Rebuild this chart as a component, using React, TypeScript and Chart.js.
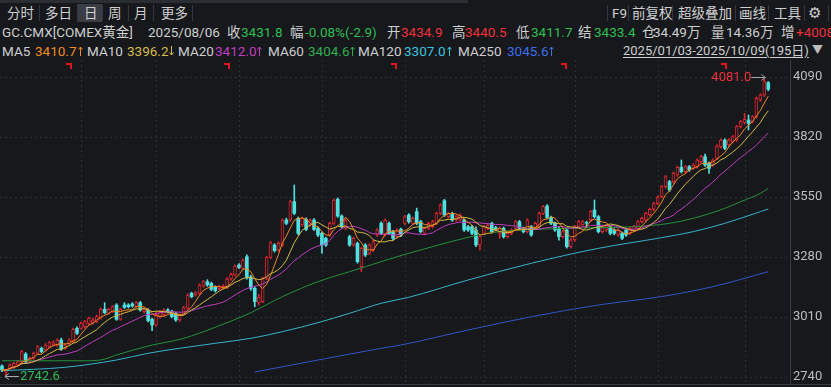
import React, { useEffect, useRef } from "react";
import { Chart, registerables } from "chart.js";

Chart.register(...registerables);

// ---- data ----
const SLOTS = 200; // 195 trading days + empty slots on the right

const OPEN = [
  2789.5, 2762, 2779, 2783.5, 2794, 2809, 2843.5, 2813.5, 2824, 2846.5,
  2869, 2861.5, 2876.5, 2884, 2884, 2906.5, 2869, 2891.5, 2899, 2959,
  2959, 2966.5, 2981.5, 2984.5, 2989, 3004, 3044.5, 3026.5, 3034, 3064,
  2999.5, 3064, 3064, 3068.5, 3056.5, 3074.5, 3034, 3041.5, 2999.5, 2974,
  3011.5, 3019, 3041.5, 3034, 3026.5, 2996.5, 3026.5, 3049, 3116.5, 3109,
  3116.5, 3149.5, 3169, 3161.5, 3143.5, 3138, 3140, 3143.5, 3181, 3199,
  3244, 3229, 3281.5, 3190, 3139, 3075, 3079, 3184, 3278.5, 3334,
  3311.5, 3334, 3446.5, 3446.5, 3529, 3454, 3424, 3449.5, 3424, 3446.5,
  3409, 3386.5, 3364, 3379, 3431.5, 3539.5, 3464.5, 3409, 3371.5, 3334,
  3341.5, 3236.5, 3334, 3296.5, 3311.5, 3379, 3431.5, 3379, 3431.5, 3394,
  3371.5, 3404.5, 3431.5, 3469, 3431.5, 3484, 3439, 3386.5, 3409, 3416.5,
  3431.5, 3476.5, 3533.5, 3461.5, 3476.5, 3446.5, 3449.5, 3446.5, 3416.5, 3416.5,
  3401.5, 3334, 3386.5, 3409, 3431.5, 3412, 3386.5, 3409, 3371.5, 3386.5,
  3409, 3439, 3409, 3394, 3416.5, 3409, 3416.5, 3476.5, 3509.5, 3458.5,
  3431.5, 3409, 3371.5, 3401.5, 3326.5, 3356.5, 3416.5, 3424, 3434.9, 3446.5,
  3491.5, 3461.5, 3394, 3401.5, 3416.5, 3401.5, 3379, 3386.5, 3401.5, 3386.5,
  3401.5, 3409, 3439, 3446.5, 3470, 3495, 3520, 3551.5, 3596.5, 3619,
  3619, 3649, 3683.5, 3664, 3686.5, 3679, 3686.5, 3709, 3731.5, 3701.5,
  3694, 3724, 3776.5, 3806.5, 3784, 3799, 3806.5, 3866.5, 3884.5, 3896.5,
  3889, 3911.5, 3986.5, 4009, 4064.5,
];

const HIGH = [
  2795, 2776, 2800, 2806, 2815, 2860, 2850, 2830, 2852, 2882,
  2875, 2890, 2900, 2903, 2912, 2915, 2890, 2912, 2960, 2966,
  2987, 2995, 3010, 3005, 3018, 3050, 3074.5, 3050, 3062, 3070,
  3050, 3074.5, 3070, 3075, 3080, 3080, 3050, 3048, 3005, 3032,
  3040, 3048, 3048, 3040, 3032, 3025, 3058, 3115, 3122, 3125,
  3160, 3175, 3178, 3167, 3150, 3152, 3155, 3187, 3208, 3245,
  3250, 3272, 3290, 3198, 3146, 3112, 3190, 3284, 3350, 3340,
  3348, 3452, 3455, 3535, 3604, 3460, 3460, 3456, 3452, 3453,
  3415, 3392, 3370, 3437, 3542, 3546, 3470, 3452, 3378, 3370,
  3348, 3325, 3340, 3340, 3355, 3408, 3438, 3452, 3438, 3400,
  3408, 3410, 3468, 3475, 3460, 3500, 3445, 3415, 3437, 3445,
  3482, 3520, 3540, 3482, 3482, 3467, 3475, 3452, 3422, 3422,
  3416, 3377, 3422, 3430, 3437, 3418, 3415, 3415, 3392, 3407,
  3445, 3445, 3415, 3452, 3422, 3437, 3482, 3512, 3516, 3464,
  3437, 3415, 3400, 3407, 3362, 3422, 3445, 3445, 3440.5, 3490,
  3536.5, 3467, 3422, 3422, 3422, 3407, 3407, 3392, 3407, 3415,
  3422, 3445, 3460, 3482, 3500, 3526, 3555, 3602, 3647, 3625,
  3662, 3689, 3716.5, 3692, 3692, 3700, 3722, 3737, 3743.5, 3707,
  3722, 3785, 3812, 3812, 3812, 3827, 3872, 3895, 3926.5, 3919,
  3917, 4000, 4015, 4081, 4070,
];

const LOW = [
  2764, 2742.6, 2775, 2778, 2790, 2805, 2803, 2808, 2820, 2842,
  2848, 2856, 2872, 2880, 2878, 2860, 2864, 2886, 2895, 2930,
  2955, 2960, 2976, 2978, 2985, 3000, 3024, 3022, 3030, 2995,
  2995, 3048, 3050, 3054, 3052, 3036, 3028, 2988, 2948.5, 2968,
  3005, 3014, 3028, 3006, 2990, 2990, 3020, 3044, 3096, 3104,
  3110, 3144, 3148, 3128, 3122, 3132, 3135, 3138, 3176, 3194,
  3228, 3224, 3180, 3130, 3056, 3064, 3074, 3178, 3272, 3302,
  3305, 3328, 3425, 3440, 3470, 3380, 3418, 3398, 3418, 3400,
  3372, 3296.5, 3328, 3372, 3426, 3458, 3410, 3403, 3328, 3328,
  3252, 3214, 3282, 3290, 3305, 3372, 3380, 3373, 3380, 3358,
  3365, 3372, 3425, 3432, 3425, 3425, 3388, 3380, 3403, 3410,
  3425, 3470, 3462, 3455, 3440, 3440, 3443, 3395, 3395, 3380,
  3326.5, 3311.5, 3380, 3403, 3388, 3398, 3364, 3365, 3365, 3380,
  3403, 3403, 3388, 3388, 3373, 3403, 3410, 3470, 3452, 3425,
  3395, 3356, 3365, 3320, 3320, 3350, 3410, 3418, 3411.7, 3440,
  3455, 3388, 3388, 3395, 3380, 3380, 3373, 3358, 3373, 3380,
  3395, 3403, 3433, 3440, 3465, 3488, 3515, 3546, 3590, 3575,
  3612, 3643, 3658, 3658, 3665, 3673, 3680, 3703, 3688, 3656.5,
  3688, 3718, 3770, 3763, 3778, 3793, 3800, 3860, 3878, 3851.5,
  3883, 3905, 3980, 4003, 4028,
];

const CLOSE = [
  2771.5, 2770, 2794, 2801.5, 2809, 2854, 2809, 2824, 2846.5, 2876.5,
  2854, 2884, 2894.5, 2894.5, 2906.5, 2864.5, 2884, 2906.5, 2954.5, 2936.5,
  2981.5, 2989, 3004, 2996.5, 3011.5, 3044.5, 3029.5, 3044.5, 3056.5, 2999.5,
  3044.5, 3053.5, 3056.5, 3059.5, 3074.5, 3041.5, 3044.5, 2993.5, 2974, 3022,
  3034, 3041.5, 3034, 3011.5, 2996.5, 3019, 3052, 3109, 3101.5, 3119.5,
  3154, 3169, 3154, 3134.5, 3128.5, 3146.5, 3148, 3181, 3202, 3239.5,
  3233.5, 3266.5, 3190, 3139, 3079, 3100, 3184, 3278.5, 3344.5, 3308.5,
  3341.5, 3446.5, 3431.5, 3529, 3476.5, 3386.5, 3454, 3404.5, 3446.5, 3404,
  3379, 3334, 3334, 3431.5, 3536.5, 3464.5, 3416.5, 3446.5, 3334, 3364,
  3259, 3319, 3289, 3334, 3349, 3401.5, 3386.5, 3446.5, 3386.5, 3364,
  3401.5, 3379, 3461.5, 3439, 3454, 3431.5, 3394, 3409, 3431.5, 3439,
  3476.5, 3514, 3469, 3476.5, 3446.5, 3461.5, 3469, 3401.5, 3401.5, 3386.5,
  3334, 3371.5, 3416.5, 3424, 3394, 3404.5, 3409, 3371.5, 3386.5, 3401.5,
  3439, 3409, 3394, 3446.5, 3379, 3431.5, 3476.5, 3506.5, 3458.5, 3431.5,
  3401.5, 3371.5, 3394, 3326.5, 3356.5, 3416.5, 3439, 3439, 3431.8, 3484,
  3461.5, 3394, 3416.5, 3416.5, 3386.5, 3386.5, 3401.5, 3364, 3379, 3409,
  3416.5, 3439, 3454, 3476.5, 3495, 3520, 3548, 3596.5, 3641.5, 3581.5,
  3656.5, 3683.5, 3664, 3686.5, 3671.5, 3694, 3716.5, 3731.5, 3694, 3679,
  3716.5, 3779.5, 3806.5, 3769, 3806.5, 3821.5, 3866.5, 3889, 3899.5, 3881.5,
  3911.5, 3994, 4009, 4069, 4034.5,
];

// long moving averages: [day index, value]
const MA60_POINTS: [number, number][] = [
  [0, 2813], [8, 2813], [21, 2813], [25, 2816.5], [29, 2839], [37, 2879.5],
  [46, 2914], [54, 2964], [63, 3029.5], [71, 3101.5], [80, 3169], [88, 3214],
  [96, 3259], [103, 3297], [109, 3326.5], [118, 3368.5], [126, 3394], [143, 3409],
  [160, 3416.5], [169, 3431.5], [175, 3454], [183, 3499], [187, 3529], [192, 3566.5], [194, 3589],
];
const MA120_POINTS: [number, number][] = [
  [0, 2768.4], [16, 2783.7], [29, 2816.5], [37, 2846.7], [54, 2891.7], [63, 2914],
  [71, 2944], [80, 2984.5], [88, 3026.7], [96, 3071.7], [103, 3098.7], [118, 3176.5],
  [134, 3251.7], [151, 3319], [167, 3367], [175, 3394], [183, 3431.5], [192, 3484], [194, 3496],
];
const MA250_POINTS: [number, number][] = [
  [64, 2762.5], [80, 2816.5], [96, 2869], [101, 2884], [118, 2951.5], [134, 3011],
  [151, 3064], [167, 3102], [180, 3146.5], [194, 3214],
];

const Y_TICKS = [2740, 3010, 3280, 3550, 3820, 4090];
const MONTH_START = [20, 39, 60, 81, 102, 122, 145, 166, 188];
const Y_MIN = 2704;
const Y_MAX = 4166.5;

// ---- styles ----
const BG = "#16181c";
const UP = "#d9252d";
const DOWN = "#4fe0e0";
const GRID = "#2c2f35";
const AXIS = "#383b41";
const TXT = "#cfcfcf";
const RED_T = "#f0313b";
const GRN_T = "#2fbd52";
const C_MA5 = "#ef8a1e";
const C_MA10 = "#d6bd45";
const C_MA20 = "#c03ec0";
const C_MA60 = "#26913e";
const C_MA120 = "#38b3c6";
const C_MA250 = "#3355c4";
const T_MA60 = "#2fae4f";
const T_MA120 = "#3cc3dc";
const T_MA250 = "#3f6fe8";
const FONT = 'Roboto, "Noto Sans CJK SC", sans-serif';

function movingAverage(values: number[], n: number): number[] {
  return values.map((_, i) => {
    const s = Math.max(0, i - n + 1);
    let sum = 0;
    for (let k = s; k <= i; k++) sum += values[k];
    return sum / (i - s + 1);
  });
}

function sparseSeries(points: [number, number][]): (number | null)[] {
  const a: (number | null)[] = new Array(SLOTS).fill(null);
  points.forEach(([i, v]) => (a[i] = v));
  return a;
}

function pad<T>(arr: T[]): (T | null)[] {
  return [...arr, ...new Array(SLOTS - arr.length).fill(null)];
}

const decorPlugin = {
  id: "decor",
  beforeDatasetsDraw(chart: any) {
    const { ctx, chartArea: ca, scales } = chart;
    const x = scales.x;
    const y = scales.y;
    ctx.save();
    ctx.strokeStyle = GRID;
    ctx.lineWidth = 1;
    ctx.setLineDash([2, 3]);
    Y_TICKS.forEach((v) => {
      const py = Math.round(y.getPixelForValue(v)) + 0.5;
      ctx.beginPath();
      ctx.moveTo(ca.left, py);
      ctx.lineTo(ca.right, py);
      ctx.stroke();
    });
    MONTH_START.forEach((i) => {
      const px = Math.round(x.getPixelForValue(i)) + 0.5;
      ctx.beginPath();
      ctx.moveTo(px, ca.top);
      ctx.lineTo(px, ca.bottom);
      ctx.stroke();
    });
    ctx.setLineDash([]);
    ctx.strokeStyle = AXIS;
    ctx.beginPath();
    ctx.moveTo(Math.round(ca.right) + 0.5, ca.top);
    ctx.lineTo(Math.round(ca.right) + 0.5, ca.bottom);
    ctx.stroke();
    ctx.beginPath();
    ctx.moveTo(ca.left, ca.bottom - 0.5);
    ctx.lineTo(chart.width, ca.bottom - 0.5);
    ctx.stroke();
    ctx.restore();
  },
  afterDatasetsDraw(chart: any) {
    const { ctx, scales } = chart;
    const x = scales.x;
    const y = scales.y;
    let hi = 0;
    let lo = 0;
    HIGH.forEach((v, i) => { if (v > HIGH[hi]) hi = i; });
    LOW.forEach((v, i) => { if (v < LOW[lo]) lo = i; });
    ctx.save();
    ctx.font = `13px ${FONT}`;
    ctx.textBaseline = "middle";
    ctx.strokeStyle = "#a8a8a8";
    ctx.lineWidth = 1;
    // high label
    const hx = x.getPixelForValue(hi);
    const hy = Math.round(y.getPixelForValue(HIGH[hi])) - 1.5;
    ctx.beginPath();
    ctx.moveTo(hx - 13, hy);
    ctx.lineTo(hx + 1, hy);
    ctx.moveTo(hx - 3, hy - 3);
    ctx.lineTo(hx + 1, hy);
    ctx.lineTo(hx - 3, hy + 3);
    ctx.stroke();
    ctx.fillStyle = RED_T;
    ctx.textAlign = "right";
    ctx.fillText(HIGH[hi].toFixed(1), hx - 13, hy);
    // low label
    const lx = x.getPixelForValue(lo);
    const ly = Math.round(y.getPixelForValue(LOW[lo])) + 0.5;
    ctx.beginPath();
    ctx.moveTo(lx - 1, ly);
    ctx.lineTo(lx + 13, ly);
    ctx.moveTo(lx + 3, ly - 3);
    ctx.lineTo(lx - 1, ly);
    ctx.lineTo(lx + 3, ly + 3);
    ctx.stroke();
    ctx.fillStyle = GRN_T;
    ctx.textAlign = "left";
    ctx.fillText(LOW[lo].toFixed(1), lx + 14, ly);
    ctx.restore();
  },
};

function T(props: { x: number; y: number; c?: string; s?: number; u?: boolean; children: React.ReactNode }) {
  const s = props.s ?? 13.5;
  return (
    <span
      style={{
        position: "absolute",
        left: props.x,
        top: props.y - 9,
        height: 18,
        lineHeight: "18px",
        fontSize: s,
        color: props.c ?? TXT,
        whiteSpace: "nowrap",
        textDecoration: props.u ? "underline" : "none",
        textUnderlineOffset: 2,
      }}
    >
      {props.children}
    </span>
  );
}

function Arr(props: { x: number; y: number; c: string; down?: boolean }) {
  const d = props.down
    ? "M2.5 1 V10 M0.5 7.5 L2.5 10 L4.5 7.5"
    : "M2.5 11 V2 M0.5 4.5 L2.5 2 L4.5 4.5";
  return (
    <svg style={{ position: "absolute", left: props.x, top: props.y - 6 }} width={5} height={12}>
      <path d={d} stroke={props.c} strokeWidth={1} fill="none" />
    </svg>
  );
}

function Sep(props: { x: number }) {
  return <div style={{ position: "absolute", left: props.x, top: 5, width: 1, height: 16, background: "#34373d" }} />;
}

function Mark(props: { x: number }) {
  return (
    <>
      <div style={{ position: "absolute", left: props.x, top: 63, width: 6, height: 2, background: "#e4141c" }} />
      <div style={{ position: "absolute", left: props.x + 4, top: 63, width: 2, height: 6, background: "#e4141c" }} />
    </>
  );
}

export default function App() {
  const ref = useRef<HTMLCanvasElement>(null);

  useEffect(() => {
    const canvas = ref.current;
    if (!canvas) return;
    const isUp = CLOSE.map((c, i) => c >= OPEN[i]);
    const bodies = pad(OPEN.map((o, i) => [o, CLOSE[i]]));
    const wicks = pad(LOW.map((l, i) => [l, HIGH[i]]));
    const labels = Array.from({ length: SLOTS }, (_, i) => String(i));
    const line = (label: string, data: (number | null)[], color: string, sparse: boolean) => ({
      type: "line" as const,
      label,
      data,
      borderColor: color,
      borderWidth: 1,
      pointRadius: 0,
      spanGaps: sparse,
      cubicInterpolationMode: sparse ? ("monotone" as const) : ("default" as const),
      tension: 0,
      order: 0,
    });

    const chart = new Chart(canvas, {
      type: "bar",
      data: {
        labels,
        datasets: [
          line("MA5", pad(movingAverage(CLOSE, 5)), C_MA5, false),
          line("MA10", pad(movingAverage(CLOSE, 10)), C_MA10, false),
          line("MA20", pad(movingAverage(CLOSE, 20)), C_MA20, false),
          line("MA60", sparseSeries(MA60_POINTS), C_MA60, true),
          line("MA120", sparseSeries(MA120_POINTS), C_MA120, true),
          line("MA250", sparseSeries(MA250_POINTS), C_MA250, true),
          {
            type: "bar",
            label: "body",
            data: bodies as any,
            backgroundColor: isUp.map((u) => (u ? BG : DOWN)),
            borderColor: isUp.map((u) => (u ? UP : DOWN)),
            borderWidth: isUp.map((u) => (u ? 1 : 0)) as any,
            borderSkipped: false,
            barThickness: 3,
            grouped: false,
            order: 1,
          } as any,
          {
            type: "bar",
            label: "wick",
            data: wicks as any,
            backgroundColor: isUp.map((u) => (u ? UP : DOWN)),
            borderWidth: 0,
            barThickness: 1,
            grouped: false,
            order: 2,
          } as any,
        ],
      },
      options: {
        animation: false,
        responsive: false,
        maintainAspectRatio: false,
        events: [],
        layout: { padding: 0 },
        plugins: { legend: { display: false }, tooltip: { enabled: false } },
        scales: {
          x: { display: false, offset: true, grid: { display: false } },
          y: {
            position: "right",
            min: Y_MIN,
            max: Y_MAX,
            grid: { display: false, drawTicks: false },
            border: { display: false },
            ticks: {
              color: "#bdbdbd",
              font: { size: 13, family: FONT },
              padding: 3,
              autoSkip: false,
              callback: (v: any) => String(v),
            },
            afterBuildTicks: (scale: any) => {
              scale.ticks = Y_TICKS.map((v) => ({ value: v }));
            },
            afterFit: (scale: any) => {
              scale.width = 41;
              scale.paddingTop = 0;
              scale.paddingBottom = 0;
            },
          },
        },
      },
      plugins: [decorPlugin],
    });
    return () => chart.destroy();
  }, []);

  return (
    <div style={{ position: "fixed", left: 0, top: 0, width: 831, height: 387, background: BG, fontFamily: FONT, overflow: "hidden" }}>
      {/* top strip */}
      <div style={{ position: "absolute", left: 0, top: 0, width: 468, height: 3, background: "#2a2d32" }} />
      {/* tabs */}
      <div style={{ position: "absolute", left: 77, top: 4, width: 25, height: 18, background: "#3a3d43" }} />
      <T x={7} y={13}>分时</T>
      <Sep x={39} />
      <T x={45} y={13}>多日</T>
      <Sep x={77} />
      <T x={84} y={13}>日</T>
      <Sep x={102} />
      <T x={108} y={13}>周</T>
      <Sep x={128} />
      <T x={134} y={13}>月</T>
      <Sep x={153} />
      <T x={161} y={13}>更多</T>
      <Sep x={192} />
      {/* right toolbar */}
      <Sep x={607} />
      <T x={612} y={13}>F9</T>
      <Sep x={628} />
      <T x={632} y={13}>前复权</T>
      <Sep x={672} />
      <T x={678} y={13}>超级叠加</T>
      <Sep x={735} />
      <T x={739} y={13}>画线</T>
      <Sep x={768} />
      <T x={774} y={13}>工具</T>
      <Sep x={804} />
      <T x={808} y={13} s={15}>⚙</T>
      <Sep x={828} />
      {/* row 2 */}
      <T x={2} y={32}>GC.CMX[COMEX黄金]</T>
      <T x={148} y={32}>2025/08/06</T>
      <T x={227} y={32}>收</T>
      <T x={241} y={32} c={GRN_T}>3431.8</T>
      <T x={290} y={32}>幅</T>
      <T x={305} y={32} c={GRN_T}>-0.08%(-2.9)</T>
      <T x={387} y={32}>开</T>
      <T x={401} y={32} c={RED_T}>3434.9</T>
      <T x={452} y={32}>高</T>
      <T x={465} y={32} c={RED_T}>3440.5</T>
      <T x={516} y={32}>低</T>
      <T x={531} y={32} c={GRN_T}>3411.7</T>
      <T x={578} y={32}>结</T>
      <T x={594} y={32} c={GRN_T}>3433.4</T>
      <T x={642} y={32}>仓</T>
      <T x={653} y={32}>34.49万</T>
      <T x={711} y={32}>量</T>
      <T x={726} y={32}>14.36万</T>
      <T x={781} y={32}>增</T>
      <T x={796} y={32} c={RED_T}>+4008</T>
      {/* row 3 */}
      <T x={2} y={51}>MA5</T>
      <T x={35} y={51} c={C_MA5}>3410.7</T>
      <Arr x={78} y={51} c={C_MA5} />
      <T x={87} y={51}>MA10</T>
      <T x={127} y={51} c={C_MA10}>3396.2</T>
      <Arr x={169} y={51} c={C_MA10} down />
      <T x={178} y={51}>MA20</T>
      <T x={215} y={51} c={C_MA20}>3412.0</T>
      <Arr x={257} y={51} c={C_MA20} />
      <T x={268} y={51}>MA60</T>
      <T x={308} y={51} c={T_MA60}>3404.6</T>
      <Arr x={350} y={51} c={T_MA60} />
      <T x={358} y={51}>MA120</T>
      <T x={404} y={51} c={T_MA120}>3307.0</T>
      <Arr x={447} y={51} c={T_MA120} />
      <T x={458} y={51}>MA250</T>
      <T x={507} y={51} c={T_MA250}>3045.6</T>
      <Arr x={549} y={51} c={T_MA250} />
      <T x={623} y={51} s={13} u>2025/01/03-2025/10/09(195日)</T>
      <T x={812} y={51} s={11} c="#bdbdbd">▼</T>
      {/* event marks */}
      <Mark x={66} />
      <Mark x={224} />
      <Mark x={391} />
      <Mark x={561} />
      <Mark x={721} />
      {/* chart */}
      <div style={{ position: "absolute", left: 0, top: 60, width: 831, height: 325 }}>
        <canvas ref={ref} width={831} height={325} style={{ width: 831, height: 325, display: "block" }} />
      </div>
    </div>
  );
}
